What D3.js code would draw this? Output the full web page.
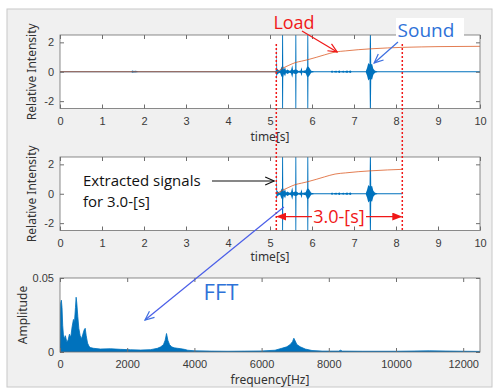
<!DOCTYPE html>
<html>
<head>
<meta charset="utf-8">
<script src="https://cdn.jsdelivr.net/npm/d3@7"></script>
<style>
body { margin: 0; background: #fff; }
svg { display: block; font-family: "Noto Sans", "DejaVu Sans", sans-serif; }
.tick text { font-size: 11px; fill: #3a3a3a; }
.tick line { stroke: #6e6e6e; }
.note { font-family: "Open Sans", "Noto Sans", sans-serif; }
</style>
</head>
<body>
<svg width="494" height="390"></svg>
<script>
// Sound + load recordings, the 3 s extract, and its spectrum

// axis ticks
var timeTicks = [0, 1, 2, 3, 4, 5, 6, 7, 8, 9, 10];
var intensityTicks = [-2, 0, 2];
var freqTicks = [0, 2000, 4000, 6000, 8000, 10000, 12000];
var ampTicks = [0, 0.05];

// extracted window [s]
var cutStart = 5.15;
var cutEnd = 8.15;

// sound signal envelope (time, upper, lower)
var signalT  = [0,     1.70,  1.72,  1.76,  1.80,  1.86,  1.92,  5.13,  5.15, 5.16, 5.17, 5.20,  5.24,  5.27, 5.285, 5.29, 5.31, 5.315, 5.33,  5.36, 5.38,  5.42,  5.46,  5.50, 5.53,  5.55, 5.60,  5.605, 5.625, 5.63,  5.68,  5.73,  5.75, 5.77,  5.85, 5.885, 5.89, 5.91, 5.915, 5.94,  5.98,  6.05,  6.45,  6.48,  6.50,  6.58,  6.60,  6.66,  6.68,  6.76,  6.78,  6.84,  6.86,  6.92,  6.94,  7.28,  7.31, 7.34, 7.37, 7.38, 7.40, 7.41, 7.43,  7.46, 7.50,  7.56,  8.15,  10];
var signalHi = [0.035, 0.035, 0.08,  0.05,  0.07,  0.04,  0.035, 0.035, 0.2,  1.9,  0.2,  0.12,  0.06,  0.3,  0.35,  3,    3,    0.4,   0.15,  0.3,  0.08,  0.15,  0.06,  0.1,  0.45,  0.1,  0.15,  3,     3,     0.15,  0.05,  0.08,  0.3,  0.05,  0.1,  0.35,  3,    3,    0.35,  0.25,  0.06,  0.035, 0.035, 0.08,  0.035, 0.07,  0.035, 0.08,  0.035, 0.07,  0.035, 0.09,  0.035, 0.08,  0.035, 0.035, 0.25, 0.6,  0.5,  3,    3,    0.5,  0.55,  0.2,  0.06,  0.035, 0.035, 0.035];
var signalLo = [-0.035,-0.035,-0.06, -0.05, -0.05, -0.04, -0.035,-0.035,-0.2, -0.6, -0.2, -0.12, -0.06, -0.3, -0.35, -3,   -3,   -0.4,  -0.15, -0.3, -0.08, -0.15, -0.06, -0.1, -0.4,  -0.1, -0.15, -3,    -3,    -0.15, -0.05, -0.08, -0.3, -0.05, -0.1, -0.35, -3,   -3,   -0.35, -0.25, -0.06, -0.035,-0.035,-0.08, -0.035,-0.07, -0.035,-0.08, -0.035,-0.07, -0.035,-0.09, -0.035,-0.08, -0.035,-0.035,-0.25,-0.6, -0.5, -3,   -3,   -0.5, -0.55, -0.2, -0.06, -0.035,-0.035,-0.035];

// load signal
var loadT = [0, 5.15, 5.3, 5.45, 5.6, 5.75, 5.9, 6.1, 6.3, 6.55, 6.8, 7.1, 7.4, 7.8, 8.15, 8.6, 9.0, 9.5, 10];
var loadV = [0, 0, 0.24, 0.44, 0.62, 0.72, 0.82, 0.98, 1.15, 1.34, 1.42, 1.5, 1.56, 1.62, 1.66, 1.69, 1.71, 1.72, 1.73];

// FFT of the extracted signal
var fftF = [0, 20, 40, 60, 80, 100, 130, 160, 200, 240, 280, 320, 360, 400, 430, 460, 480, 500, 530, 560, 600, 640, 680, 720, 750, 780, 820, 860, 900, 1000, 1200, 1500, 1800, 2100, 2400, 2700, 2900, 3000, 3080, 3130, 3170, 3210, 3260, 3320, 3400, 3500, 3600, 3700, 3800, 4000, 4500, 5000, 5500, 6000, 6400, 6600, 6750, 6850, 6920, 6960, 7000, 7050, 7150, 7300, 7500, 7800, 8300, 8350, 8400, 9000, 10000, 11000, 12000, 12500];
var fftA = [0.004, 0.033, 0.035, 0.030, 0.018, 0.012, 0.009, 0.011, 0.007, 0.008, 0.012, 0.010, 0.017, 0.022, 0.020, 0.030, 0.037, 0.033, 0.024, 0.016, 0.011, 0.009, 0.012, 0.015, 0.016, 0.011, 0.006, 0.004, 0.003, 0.0025, 0.002, 0.0022, 0.0018, 0.0015, 0.0013, 0.0016, 0.0025, 0.0035, 0.005, 0.008, 0.0125, 0.008, 0.005, 0.0035, 0.0028, 0.0025, 0.0022, 0.0018, 0.0012, 0.0008, 0.0006, 0.0005, 0.0006, 0.0007, 0.0012, 0.0025, 0.0035, 0.005, 0.007, 0.0093, 0.0075, 0.005, 0.0035, 0.002, 0.001, 0.0006, 0.0006, 0.0012, 0.0006, 0.0005, 0.0005, 0.0008, 0.0005, 0.0004];

var BLUE = "#0072BD";
var ORANGE = "#D95319";

function layout(){
	var svg = d3.select("svg");

	svg.append("rect")
		.attr("x", 7).attr("y", 9).attr("width", 485).attr("height", 378)
		.attr("fill", "#f0f0f0").attr("stroke", "#c8c8c8");

	var defs = svg.append("defs");
	makeChevron(defs, "chev-red", "#f01818");
	makeChevron(defs, "chev-blue", "#3d6fe0");
	makeChevron(defs, "chev-black", "#111");
	defs.append("marker")
		.attr("id", "tri-red")
		.attr("viewBox", "0 0 10 8")
		.attr("refX", 9).attr("refY", 4)
		.attr("markerWidth", 10).attr("markerHeight", 8)
		.attr("markerUnits", "userSpaceOnUse")
		.attr("orient", "auto")
		.append("path").attr("d", "M0,0L10,4L0,8Z").attr("fill", "#f01818");

	var x1 = d3.scaleLinear().domain([0, 10]).range([60, 480]);
	var y1 = d3.scaleLinear().domain([-2.5, 2.5]).range([108.5, 35]);
	var y2 = d3.scaleLinear().domain([-2.5, 2.5]).range([230.5, 157]);
	var xf = d3.scaleLinear().domain([0, 12500]).range([60, 480]);
	var yf = d3.scaleLinear().domain([0, 0.05]).range([352, 278]);

	var sig = signalT.map((t, i) => ({t: t, hi: signalHi[i], lo: signalLo[i]}));
	var load = loadT.map((t, i) => ({t: t, v: loadV[i]}));
	var fft = fftF.map((f, i) => ({f: f, a: fftA[i]}));

	var inCut = d => d.t >= cutStart && d.t <= cutEnd;

	// ---- plot 1 : full recording
	var p1 = plotFrame(svg, "c1", x1, y1);
	drawSignal(p1, sig, load, x1, y1);
	plotAxes(svg, x1, y1, timeTicks, intensityTicks, d => String(d), 9);
	axisLabels(svg, x1, y1, "time[s]", "Relative Intensity", 141, 36);

	// ---- plot 2 : extracted 3 s
	var p2 = plotFrame(svg, "c2", x1, y2);
	drawSignal(p2, sig.filter(inCut), load.filter(inCut), x1, y2);
	plotAxes(svg, x1, y2, timeTicks, intensityTicks, d => String(d), 9);
	axisLabels(svg, x1, y2, "time[s]", "Relative Intensity", 261, 36);

	// ---- plot 3 : FFT
	var p3 = plotFrame(svg, "c3", xf, yf);
	p3.append("path")
		.datum(fft)
		.attr("fill", BLUE)
		.attr("stroke", BLUE)
		.attr("stroke-width", 0.8)
		.attr("d", d3.area().x(d => xf(d.f)).y0(yf(0)).y1(d => yf(d.a)));
	plotAxes(svg, xf, yf, freqTicks, ampTicks, d => String(d), 8);
	axisLabels(svg, xf, yf, "frequency[Hz]", "Amplitude", 384, 27);

	// ---- annotations
	var ann = svg.append("g");

	// window limits
	[cutStart, cutEnd].forEach(t => {
		ann.append("line")
			.attr("x1", x1(t)).attr("x2", x1(t))
			.attr("y1", 44).attr("y2", 232)
			.attr("stroke", "#f01818").attr("stroke-width", 1.5)
			.attr("stroke-dasharray", "2,2");
	});

	// 3.0-[s] double arrow
	var ya = y2(-1.55);
	ann.append("line")
		.attr("x1", 312).attr("x2", x1(cutStart) + 1).attr("y1", ya).attr("y2", ya)
		.attr("stroke", "#f01818").attr("stroke-width", 1.3)
		.attr("marker-end", "url(#tri-red)");
	ann.append("line")
		.attr("x1", 366).attr("x2", x1(cutEnd) - 1).attr("y1", ya).attr("y2", ya)
		.attr("stroke", "#f01818").attr("stroke-width", 1.3)
		.attr("marker-end", "url(#tri-red)");
	ann.append("text").attr("class", "note")
		.attr("x", 339).attr("y", ya + 6.5)
		.attr("text-anchor", "middle")
		.attr("font-size", 18).attr("fill", "#f01818")
		.text("3.0-[s]");

	// Load
	ann.append("text").attr("class", "note")
		.attr("x", 294).attr("y", 29)
		.attr("text-anchor", "middle")
		.attr("font-size", 18).attr("fill", "#f01818")
		.text("Load");
	ann.append("line")
		.attr("x1", 302).attr("y1", 31)
		.attr("x2", x1(6.6)).attr("y2", y1(1.35))
		.attr("stroke", "#f01818").attr("stroke-width", 1.2)
		.attr("marker-end", "url(#chev-red)");

	// Sound
	ann.append("rect")
		.attr("x", 396).attr("y", 18).attr("width", 68).attr("height", 24)
		.attr("fill", "#fff");
	ann.append("text").attr("class", "note")
		.attr("x", 426).attr("y", 37)
		.attr("text-anchor", "middle")
		.attr("font-size", 19).attr("fill", "#2e72d8")
		.text("Sound");
	ann.append("line")
		.attr("x1", 398).attr("y1", 42)
		.attr("x2", x1(7.48)).attr("y2", y1(0.6))
		.attr("stroke", "#3d6fe0").attr("stroke-width", 1.2)
		.attr("marker-end", "url(#chev-blue)");

	// Extracted signals
	var ex = ann.append("text").attr("class", "note")
		.attr("font-size", 15).attr("fill", "#111");
	ex.append("tspan").attr("x", 83).attr("y", 186).text("Extracted signals");
	ex.append("tspan").attr("x", 83).attr("y", 207).text("for 3.0-[s]");
	ann.append("line")
		.attr("x1", 212).attr("y1", 181)
		.attr("x2", x1(5.1)).attr("y2", 181)
		.attr("stroke", "#111").attr("stroke-width", 1.1)
		.attr("marker-end", "url(#chev-black)");

	// FFT
	ann.append("line")
		.attr("x1", x1(5.33)).attr("y1", y2(-0.9))
		.attr("x2", xf(2530)).attr("y2", yf(0.0216))
		.attr("stroke", "#4a5ee8").attr("stroke-width", 1.2)
		.attr("marker-end", "url(#chev-blue)");
	ann.append("text").attr("class", "note")
		.attr("x", 221).attr("y", 300)
		.attr("text-anchor", "middle")
		.attr("font-size", 22).attr("fill", "#2e72d8")
		.text("FFT");
}

function makeChevron(defs, id, color){
	defs.append("marker")
		.attr("id", id)
		.attr("viewBox", "-1 -1 11 10")
		.attr("refX", 9).attr("refY", 4)
		.attr("markerWidth", 11).attr("markerHeight", 10)
		.attr("markerUnits", "userSpaceOnUse")
		.attr("orient", "auto")
		.append("path")
		.attr("d", "M0,0L9,4L0,8")
		.attr("fill", "none").attr("stroke", color).attr("stroke-width", 1.2);
}

function plotFrame(svg, id, x, y){
	var x0 = x.range()[0], xw = x.range()[1] - x0;
	var yt = y.range()[1], yh = y.range()[0] - yt;
	svg.append("clipPath").attr("id", id)
		.append("rect").attr("x", x0).attr("y", yt).attr("width", xw).attr("height", yh);
	svg.append("rect")
		.attr("x", x0).attr("y", yt).attr("width", xw).attr("height", yh)
		.attr("fill", "#fff");
	return svg.append("g").attr("clip-path", "url(#" + id + ")");
}

function drawSignal(g, sig, load, x, y){
	g.append("path")
		.datum(sig)
		.attr("fill", BLUE)
		.attr("d", d3.area().x(d => x(d.t)).y0(d => y(d.lo)).y1(d => y(d.hi)));
	g.append("path")
		.datum(load)
		.attr("fill", "none")
		.attr("stroke", ORANGE)
		.attr("stroke-opacity", 0.75)
		.attr("stroke-width", 1)
		.attr("d", d3.line().curve(d3.curveMonotoneX).x(d => x(d.t)).y(d => y(d.v)));
}

function plotAxes(svg, x, y, xt, yt, yfmt, pad){
	var bottom = y.range()[0], top = y.range()[1];
	var left = x.range()[0], right = x.range()[1];
	var g = svg.append("g");

	g.append("g").attr("transform", "translate(0," + bottom + ")")
		.call(d3.axisBottom(x).tickValues(xt).tickFormat(d3.format("d"))
			.tickSizeInner(-4).tickSizeOuter(0).tickPadding(pad))
		.call(a => a.select(".domain").remove());
	g.append("g").attr("transform", "translate(0," + top + ")")
		.call(d3.axisTop(x).tickValues(xt).tickFormat("")
			.tickSizeInner(-4).tickSizeOuter(0))
		.call(a => a.select(".domain").remove());
	g.append("g").attr("transform", "translate(" + left + ",0)")
		.call(d3.axisLeft(y).tickValues(yt).tickFormat(yfmt)
			.tickSizeInner(-4).tickSizeOuter(0).tickPadding(6))
		.call(a => a.select(".domain").remove());
	g.append("g").attr("transform", "translate(" + right + ",0)")
		.call(d3.axisRight(y).tickValues(yt).tickFormat("")
			.tickSizeInner(-4).tickSizeOuter(0))
		.call(a => a.select(".domain").remove());

	g.selectAll("text").attr("font-family", null);
	g.selectAll(".tick text").attr("font-size", null).style("font-size", "11px");

	g.append("rect")
		.attr("x", left).attr("y", top)
		.attr("width", right - left).attr("height", bottom - top)
		.attr("fill", "none").attr("stroke", "#6e6e6e").attr("stroke-width", 0.8);
}

function axisLabels(svg, x, y, xlab, ylab, xly, ylx){
	var cx = (x.range()[0] + x.range()[1]) / 2;
	var cy = (y.range()[0] + y.range()[1]) / 2;
	svg.append("text")
		.attr("x", cx).attr("y", xly)
		.attr("text-anchor", "middle")
		.attr("font-size", 12).attr("fill", "#333")
		.text(xlab);
	svg.append("text")
		.attr("transform", "translate(" + ylx + "," + cy + ") rotate(-90)")
		.attr("text-anchor", "middle")
		.attr("font-size", 12).attr("fill", "#333")
		.text(ylab);
}

layout();
</script>
</body>
</html>
